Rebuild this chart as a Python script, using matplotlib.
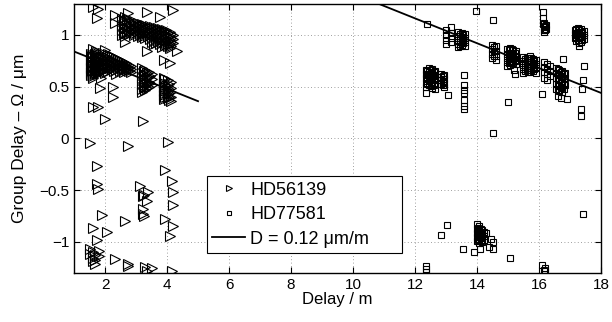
import matplotlib
matplotlib.use('Agg')
import matplotlib.pyplot as plt
import numpy as np

# HD56139 : (delay, [group delays]) columns
hd56139_cols = [
    (1.55, [0.82, 0.76, 0.72, 0.68, 0.63, 0.61]),
    (1.58, [0.80, 0.74, 0.70, 0.65]),
    (1.62, [0.86, 0.79, 0.74, 0.70, 0.66, 0.60, 0.58]),
    (1.66, [0.82, 0.77, 0.71, 0.67, 0.62]),
    (1.70, [0.84, 0.80, 0.77, 0.73, 0.69, 0.64]),
    (1.74, [0.83, 0.78, 0.75, 0.71, 0.66]),
    (1.78, [0.81, 0.75, 0.71, 0.67, 0.62]),
    (1.82, [0.79, 0.73, 0.69, 0.64]),
    (1.88, [0.78, 0.74, 0.70, 0.65, 0.58]),
    (1.95, [0.83, 0.78, 0.74, 0.70, 0.66]),
    (2.00, [0.85, 0.80, 0.76, 0.72, 0.68, 0.63]),
    (2.05, [0.79, 0.75, 0.71, 0.67]),
    (2.10, [0.82, 0.77, 0.73, 0.69, 0.65]),
    (2.16, [0.81, 0.76, 0.72, 0.68]),
    (2.22, [0.80, 0.75, 0.71, 0.67]),
    (2.28, [0.79, 0.73, 0.69, 0.65]),
    (2.35, [0.78, 0.74, 0.70, 0.66, 0.62]),
    (2.42, [0.77, 0.73, 0.68]),
    (2.48, [0.76, 0.72, 0.69, 0.65]),
    (2.55, [0.75, 0.70, 0.67]),
    (2.60, [0.74, 0.71, 0.68, 0.64]),
    (2.66, [0.73, 0.70, 0.67]),
    (2.72, [0.72, 0.69, 0.66]),
    (2.78, [0.71, 0.68, 0.65]),
    (2.85, [0.70, 0.67, 0.64]),
    (3.20, [0.68, 0.63, 0.58, 0.53, 0.48, 0.45]),
    (3.25, [0.65, 0.60, 0.55, 0.50]),
    (3.30, [0.66, 0.61, 0.56, 0.51, 0.47]),
    (3.36, [0.63, 0.58, 0.53, 0.49]),
    (3.42, [0.64, 0.59, 0.55, 0.50]),
    (3.46, [0.60, 0.54]),
    (3.50, [0.62, 0.57, 0.52]),
    (3.90, [0.58, 0.54, 0.50, 0.46, 0.42, 0.38]),
    (3.95, [0.57, 0.52, 0.48, 0.44, 0.40]),
    (4.02, [0.56, 0.51, 0.47, 0.43, 0.39]),
    (4.07, [0.53, 0.48, 0.44, 0.40, 0.37]),
    (4.12, [0.55, 0.49, 0.45, 0.40, 0.36]),
    (2.55, [1.15, 1.10, 1.05, 1.00]),
    (2.60, [1.13, 1.07, 1.02]),
    (2.65, [1.17, 1.12, 1.08, 1.03, 0.99, 0.93]),
    (2.72, [1.15, 1.11, 1.07, 1.02]),
    (2.78, [1.14, 1.10, 1.06, 1.01]),
    (2.85, [1.12, 1.08, 1.03]),
    (2.92, [1.13, 1.09, 1.05, 1.00]),
    (2.98, [1.11, 1.07, 1.02]),
    (3.05, [1.12, 1.08, 1.04, 0.99]),
    (3.12, [1.10, 1.05, 1.01]),
    (3.18, [1.11, 1.07, 1.03, 0.98]),
    (3.24, [1.09, 1.05, 1.00]),
    (3.30, [1.10, 1.06, 1.02, 0.97]),
    (3.38, [1.08, 1.04, 0.99]),
    (3.45, [1.09, 1.05, 1.01, 0.96]),
    (3.52, [1.07, 1.03, 0.98, 0.93]),
    (3.58, [1.08, 1.04, 1.00, 0.95, 0.91]),
    (3.65, [1.06, 1.02, 0.97, 0.92]),
    (3.72, [1.07, 1.03, 0.99, 0.94]),
    (3.78, [1.05, 1.01, 0.96, 0.91]),
    (3.85, [1.06, 1.02, 0.98, 0.93, 0.88]),
    (3.92, [1.04, 1.00, 0.95, 0.90]),
    (3.98, [1.05, 1.01, 0.97, 0.92]),
    (4.03, [1.02, 0.98, 0.94, 0.89]),
    (4.08, [1.03, 0.99, 0.95, 0.91, 0.87]),
    (4.13, [1.01, 0.97, 0.93, 0.89]),
    (4.18, [1.00, 0.96, 0.92]),
    # outliers
    (1.61, [1.27, 0.30]),
    (1.77, [1.25, 0.30]),
    (1.74, [1.16, -0.27, -0.44, -0.98]),
    (2.32, [1.19, 1.12, -1.16]),
    (2.74, [1.21, -0.07, -1.21, -1.23]),
    (3.35, [1.22, 0.84, -0.60, -1.28]),
    (3.77, [1.17]),
    (4.19, [1.24, -0.52, -0.64, -0.85]),
    (3.90, [0.76]),
    (4.10, [0.73, -0.94]),
    (4.32, [0.84]),
    (1.84, [0.49]),
    (2.26, [0.50, 0.40]),
    (2.00, [0.19]),
    (3.23, [0.17, -0.56, -0.68, -0.73]),
    (1.52, [-0.04, -1.07, -1.12]),
    (4.03, [-0.03]),
    (1.77, [-0.49]),
    (3.13, [-0.46]),
    (3.26, [-0.55, -0.75]),
    (3.40, [-0.52]),
    (3.94, [-0.30, -0.78]),
    (4.16, [-0.41, -1.28]),
    (1.90, [-0.74]),
    (2.06, [-0.90]),
    (1.61, [-0.86, -1.10, -1.15, -1.18]),
    (2.65, [-0.80]),
    (1.68, [-1.13, -1.17, -1.21]),
    (1.80, [-1.09, -1.14]),
    (3.30, [-1.24]),
    (3.50, [-1.25]),
]

# HD77581 : (delay, [group delays])
hd77581_cols = [
    (12.35, [0.66, 0.62, 0.58, 0.54, 0.50, 0.44, -1.23, -1.26, -1.29]),
    (12.40, [0.65, 0.61, 0.57, 0.53]),
    (12.45, [0.68, 0.64, 0.60, 0.56, 0.52]),
    (12.50, [0.66, 0.62, 0.58, 0.54, 0.51]),
    (12.55, [0.67, 0.63, 0.59, 0.55, 0.49]),
    (12.60, [0.64, 0.60, 0.56, 0.52]),
    (12.65, [0.65, 0.61, 0.57, 0.53, 0.48]),
    (12.85, [0.62, 0.59, 0.56, 0.53]),
    (12.90, [0.60, 0.57, 0.55, 0.52]),
    (12.95, [0.61, 0.57, 0.54, 0.50]),
    (13.05, [0.42]),
    (12.39, [1.105]),
    (13.00, [1.05, 1.00, 0.95, 0.91]),
    (13.15, [1.08, 1.02, 0.97, 0.93]),
    (13.40, [1.03, 0.99, 0.95, 0.91, 0.88]),
    (13.45, [1.01, 0.97, 0.93, 0.89]),
    (13.50, [1.02, 0.98, 0.94, 0.90]),
    (13.55, [1.00, 0.96, 0.92]),
    (13.60, [1.01, 0.97, 0.93, 0.89]),
    (13.58, [0.61, 0.52, 0.47, 0.44, 0.375, 0.31, 0.28]),
    (13.97, [1.23]),
    (14.52, [1.14, 0.05, -1.00, -1.07]),
    (14.50, [0.90, 0.86, 0.82, 0.78]),
    (14.55, [0.88, 0.84, 0.80]),
    (14.60, [0.89, 0.84, 0.80, 0.76]),
    (14.97, [0.86, 0.82, 0.78, 0.74, 0.70]),
    (15.02, [0.85, 0.81, 0.77, 0.73]),
    (15.07, [0.87, 0.83, 0.79, 0.75, 0.71]),
    (15.12, [0.86, 0.82, 0.78, 0.74]),
    (15.17, [0.85, 0.81, 0.77, 0.73]),
    (15.22, [0.83, 0.79, 0.75]),
    (15.27, [0.84, 0.80, 0.76, 0.72]),
    (15.20, [0.66]),
    (15.23, [0.62]),
    (15.00, [0.35]),
    (15.50, [0.79, 0.75, 0.71, 0.67, 0.63]),
    (15.55, [0.77, 0.73, 0.69, 0.65]),
    (15.60, [0.78, 0.74, 0.70, 0.66]),
    (15.65, [0.76, 0.72, 0.68, 0.64]),
    (15.70, [0.80, 0.76, 0.72, 0.68, 0.64]),
    (15.75, [0.78, 0.74, 0.70, 0.66]),
    (15.80, [0.77, 0.73, 0.69, 0.65]),
    (15.85, [0.75, 0.71, 0.67]),
    (15.90, [0.76, 0.72, 0.68, 0.63]),
    (16.13, [1.22, 1.16, 1.11]),
    (16.15, [1.12, 1.08, 1.05, 1.03, 0.74, 0.69, 0.64, 0.58, -1.27]),
    (16.18, [1.09, 1.05]),
    (16.22, [1.10, 1.06]),
    (16.25, [0.72, 0.67, 0.62, 0.56]),
    (16.35, [0.70, 0.65, 0.60]),
    (16.10, [0.43, -1.22]),
    (16.55, [0.68, 0.63, 0.58, 0.53, 0.48]),
    (16.60, [0.67, 0.62, 0.57, 0.52, 0.47]),
    (16.65, [0.66, 0.61, 0.56, 0.51, 0.46]),
    (16.70, [0.64, 0.59, 0.54, 0.49]),
    (16.75, [0.65, 0.60, 0.55, 0.50, 0.45]),
    (16.80, [0.62, 0.57, 0.53, 0.48]),
    (16.85, [0.63, 0.58, 0.52]),
    (16.77, [0.77]),
    (16.60, [0.41]),
    (16.90, [0.38]),
    (16.70, [0.39]),
    (17.15, [1.05, 1.01, 0.97]),
    (17.20, [1.06, 1.02, 0.98, 0.94]),
    (17.25, [1.07, 1.03, 0.99, 0.95]),
    (17.30, [1.05, 1.01, 0.97, 0.92]),
    (17.35, [1.06, 1.02, 0.98, 0.93, 0.28, 0.22]),
    (17.40, [1.03, 0.99, 0.95]),
    (17.45, [1.04, 1.00, 0.96, 0.70]),
    (17.30, [0.89]),
    (17.42, [0.56, -0.73]),
    (17.40, [0.48]),
    (13.03, [-0.84]),
    (12.84, [-0.93]),
    (13.55, [-1.07]),
    (14.00, [-0.83, -0.87, -0.91, -0.95, -0.99]),
    (14.04, [-0.86, -0.90, -0.94, -0.98]),
    (14.08, [-0.85, -0.89, -0.93, -0.97, -1.01]),
    (14.12, [-0.87, -0.91, -0.95, -0.99]),
    (14.15, [-0.88, -0.92, -0.96, -1.00]),
    (14.22, [-0.90, -0.94, -0.98]),
    (13.90, [-1.10]),
    (14.10, [-1.07]),
    (14.30, [-0.91]),
    (14.45, [-0.97]),
    (14.40, [-1.05]),
    (15.06, [-1.15]),
    (16.20, [-1.25, -1.28]),
]

# fitted dispersion lines, D = 0.12 um/m
fit1_x = [1.0, 5.0]
fit1_y = [0.84, 0.36]
fit2_x = [10.0, 18.0]
fit2_y = [1.40, 0.44]


def expand(cols):
    xs, ys = [], []
    for d, vals in cols:
        for v in vals:
            xs.append(d)
            ys.append(v)
    return np.array(xs), np.array(ys)


def main():
    plt.rcParams['font.family'] = ['Liberation Sans', 'DejaVu Sans']
    fig = plt.figure(figsize=(6.12, 3.22), dpi=100)
    ax = fig.add_axes([0.121, 0.152, 0.861, 0.836])

    x1, y1 = expand(hd56139_cols)
    x2, y2 = expand(hd77581_cols)

    ax.plot(x1, y1, '>', ls='none', ms=6.5, mfc='none', mec='k', mew=0.8,
            label='HD56139')
    ax.plot(x2, y2, 's', ls='none', ms=4.8, mfc='none', mec='k', mew=0.8,
            label='HD77581')
    ax.plot(fit1_x, fit1_y, 'k-', lw=1.3, label='D = 0.12 \u03bcm/m')
    ax.plot(fit2_x, fit2_y, 'k-', lw=1.3)

    ax.set_xlim(1, 18)
    ax.set_ylim(-1.3, 1.3)
    ax.set_xticks(range(2, 19, 2))
    ax.set_yticks([-1, -0.5, 0, 0.5, 1])
    ax.set_yticklabels(['\u22121', '\u22120.5', '0', '0.5', '1'])
    ax.tick_params(direction='in', top=True, right=True, labelsize=11,
                   length=4, width=0.8)
    ax.grid(True, ls=(0, (1, 3)), color='k', lw=0.6, alpha=0.5)
    for s in ax.spines.values():
        s.set_linewidth(1.0)

    ax.set_xlabel('Delay / m', fontsize=12, labelpad=0)
    ax.set_ylabel('Group Delay \u2013 \u03a9 / \u03bcm', fontsize=12.5, labelpad=9)

    h, l = ax.get_legend_handles_labels()
    leg = ax.legend(h, l, loc='lower left',
                    bbox_to_anchor=(0.252, 0.074, 0.37, 0.298), mode='expand',
                    borderaxespad=0, fontsize=13, fancybox=False,
                    edgecolor='k', framealpha=1, markerscale=0.65,
                    handlelength=1.8, handletextpad=0.3, labelspacing=0.42,
                    borderpad=0.3)
    leg.get_frame().set_linewidth(0.8)

    plt.savefig('out.png', dpi=100)


if __name__ == "__main__":
    main()
